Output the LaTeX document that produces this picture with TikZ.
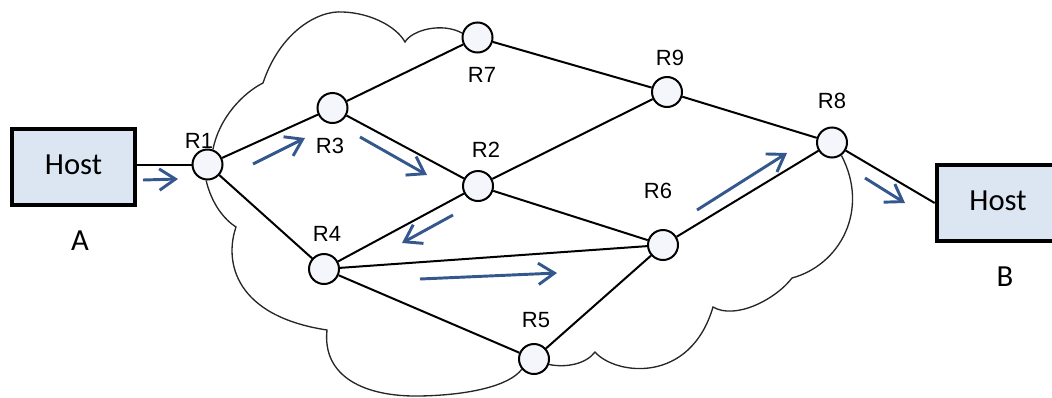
\documentclass[tikz,border=0pt]{standalone}
\usepackage{fontspec}
\setmainfont{Liberation Sans}
\newfontfamily\hostfont{Carlito}
\usetikzlibrary{arrows.meta}
\definecolor{flowblue}{RGB}{52,88,142}
\definecolor{hostfill}{RGB}{220,230,242}
\definecolor{routerfill}{RGB}{244,246,251}
\tikzset{
  router/.style={circle, draw=black, line width=1.5pt, fill=routerfill, minimum size=22.5pt, inner sep=0pt},
  hostbox/.style={draw=black, line width=3pt, fill=hostfill, minimum width=92pt, minimum height=57pt, inner sep=0pt, font=\hostfont\fontsize{23}{27}\selectfont},
  rlabel/.style={font=\fontsize{16.5}{19}\selectfont, inner sep=0pt},
  hlabel/.style={font=\hostfont\fontsize{23}{27}\selectfont, inner sep=0pt},
  link/.style={draw=black, line width=1.5pt},
  cloudline/.style={draw=black!85, line width=1pt},
  flow/.style={draw=flowblue, line width=2.2pt, -{Straight Barb[length=12pt, width=16pt, line width=2.2pt]}},
}
\begin{document}
\begin{tikzpicture}[x=0.75pt, y=-0.75pt]
\useasboundingbox (0,0) rectangle (1052,397);
\clip (0,0) rectangle (1052,397);
% hosts
\node[hostbox] (HA) at (73.5,167) {\raisebox{3pt}{Host}};
\node[hostbox] (HB) at (998,203) {\raisebox{3pt}{Host}};
\node[hlabel] (lA) at (80,241) {A};
\node[hlabel] (lB) at (1005,277) {B};
% routers
\node[router] (R1) at (207.5,164.5) {};
\node[router] (R3) at (332.5,108) {};
\node[router] (R2) at (478,186) {};
\node[router] (R7) at (477.5,37.5) {};
\node[router] (R9) at (667,92) {};
\node[router] (R8) at (832,142.5) {};
\node[router] (R6) at (663,245) {};
\node[router] (R4) at (324,269) {};
\node[router] (R5) at (534,359) {};
% router labels
\node[rlabel] (lR1) at (199,141) {R1};
\node[rlabel] (lR3) at (330,146) {R3};
\node[rlabel] (lR2) at (486,150) {R2};
\node[rlabel] (lR7) at (482,75) {R7};
\node[rlabel] (lR9) at (670,58) {R9};
\node[rlabel] (lR8) at (832,101) {R8};
\node[rlabel] (lR6) at (658,191) {R6};
\node[rlabel] (lR4) at (327,234) {R4};
\node[rlabel] (lR5) at (536,320) {R5};
% cloud outline
\draw[cloudline] (R1.70) .. controls (219,118) and (243,93) .. (263,83)
  .. controls (280,32) and (318,10) .. (343,12)
  .. controls (370,13) and (396,26) .. (405,42)
  .. controls (412,30) and (442,22) .. (R7.164);
\draw[cloudline] (R1.-95) .. controls (212,205) and (225,220) .. (236,227)
  .. controls (224,262) and (235,316) .. (327,330)
  .. controls (322,377) and (365,397) .. (420,396)
  .. controls (472,395) and (510,385) .. (R5.220);
\draw[cloudline] (R5.340) .. controls (566,368) and (586,364) .. (595,352)
  .. controls (615,375) and (690,385) .. (713,307)
  .. controls (735,320) and (775,300) .. (792,278)
  .. controls (840,265) and (870,210) .. (R8.-54);
% links
\draw[link] (HA.east |- R1) -- (R1);
\draw[link] (R1) -- (R3);
\draw[link] (R1) -- (R4);
\draw[link] (R3) -- (R7);
\draw[link] (R3) -- (R2);
\draw[link] (R7) -- (R9);
\draw[link] (R9) -- (R2);
\draw[link] (R9) -- (R8);
\draw[link] (R2) -- (R4);
\draw[link] (R2) -- (R6);
\draw[link] (R4) -- (R6);
\draw[link] (R4) -- (R5);
\draw[link] (R5) -- (R6);
\draw[link] (R6) -- (R8);
\draw[link] (R8) -- (HB.west);
% flow arrows
\coordinate (a1s) at (143,180); \coordinate (a1e) at (178,179);
\coordinate (a2s) at (253,164); \coordinate (a2e) at (305,138);
\coordinate (a3s) at (360,137); \coordinate (a3e) at (427,175);
\coordinate (a4s) at (453,215); \coordinate (a4e) at (402,243);
\coordinate (a5s) at (420,279); \coordinate (a5e) at (557,273);
\coordinate (a6s) at (697,210); \coordinate (a6e) at (787,153);
\coordinate (a7s) at (865,178); \coordinate (a7e) at (905,203);
\draw[flow] (a1s) -- (a1e);
\draw[flow] (a2s) -- (a2e);
\draw[flow] (a3s) -- (a3e);
\draw[flow] (a4s) -- (a4e);
\draw[flow] (a5s) -- (a5e);
\draw[flow] (a6s) -- (a6e);
\draw[flow] (a7s) -- (a7e);
\end{tikzpicture}
\end{document}
